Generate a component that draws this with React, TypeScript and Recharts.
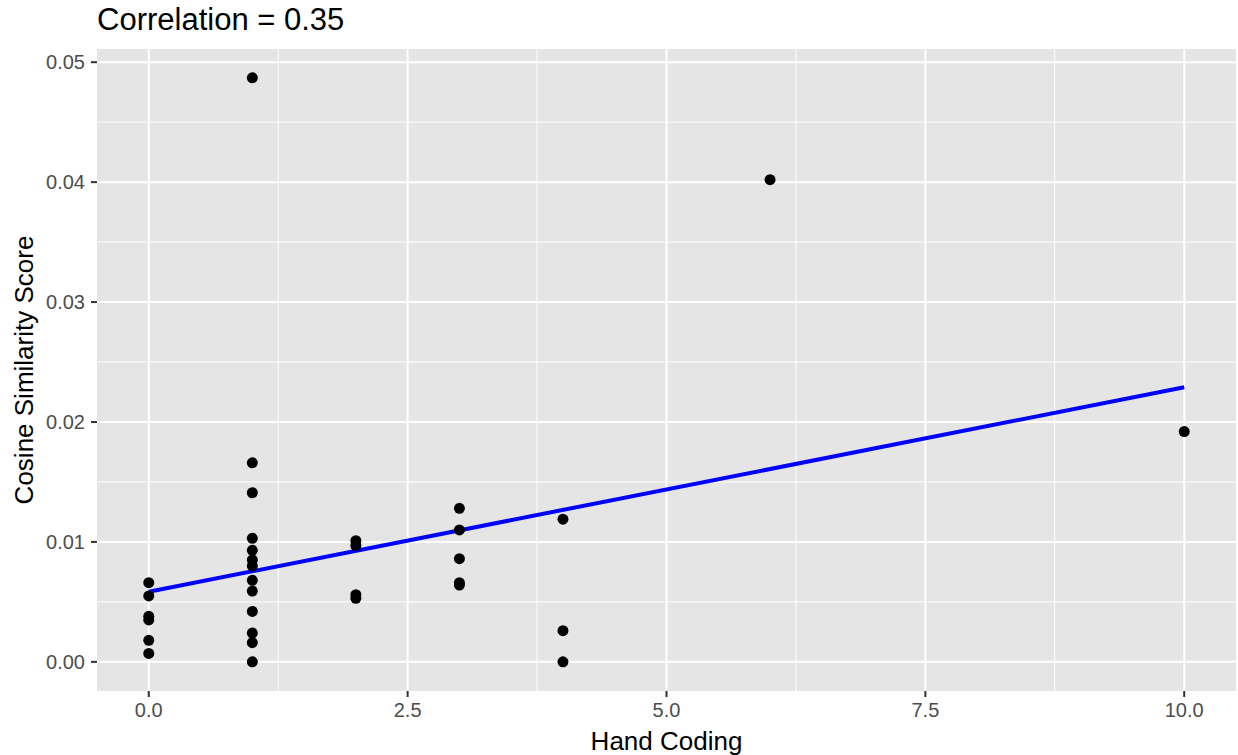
import React from "react";
import { ComposedChart, Scatter, Line, XAxis, YAxis, CartesianGrid, ReferenceLine, Label } from "recharts";

// hand coding score (x) and cosine similarity (y), one entry per document
const handCoding = [
  0, 0, 0, 0, 0, 0,
  1, 1, 1, 1, 1, 1, 1, 1, 1, 1, 1, 1, 1,
  2, 2, 2, 2,
  3, 3, 3, 3, 3,
  4, 4, 4,
  6,
  10,
];
const cosineScore = [
  0.0066, 0.0055, 0.0038, 0.0035, 0.0018, 0.0007,
  0.0487, 0.0166, 0.0141, 0.0103, 0.0093, 0.0085, 0.008, 0.0068, 0.0059, 0.0042, 0.0024, 0.0016, 0.0,
  0.0101, 0.0097, 0.0056, 0.0053,
  0.0128, 0.011, 0.0086, 0.0066, 0.0064,
  0.0119, 0.0026, 0.0,
  0.0402,
  0.0192,
];

// fitted line ends (lm)
const fitX = [0, 10];
const fitY = [0.00585, 0.0229];

const xTicks = [0, 2.5, 5, 7.5, 10];
const xMinor = [1.25, 3.75, 6.25, 8.75];
const yTicks = [0, 0.01, 0.02, 0.03, 0.04, 0.05];
const yMinor = [0.005, 0.015, 0.025, 0.035, 0.045];

const points = handCoding.map((x, i) => ({ x, y: cosineScore[i] }));
const fit = fitX.map((x, i) => ({ x, y: fitY[i] }));

const FONT = '"Liberation Sans", Arial, Helvetica, sans-serif';
const TICK = { fill: "#4D4D4D", fontSize: 20, fontFamily: FONT };

export default function App() {
  return (
    <div style={{ position: "absolute", left: 0, top: 0, width: 1238, height: 755, background: "#fff" }}>
      <ComposedChart width={1238} height={755} margin={{ top: 49, right: 2, bottom: 0, left: 0 }}>
        <CartesianGrid fill="#E5E5E5" stroke="none" horizontal={false} vertical={false} />
        {xMinor.map((v) => (
          <ReferenceLine key={"xm" + v} x={v} stroke="#fff" strokeWidth={1} zIndex={-90} />
        ))}
        {yMinor.map((v) => (
          <ReferenceLine key={"ym" + v} y={v} stroke="#fff" strokeWidth={1} zIndex={-90} />
        ))}
        {xTicks.map((v) => (
          <ReferenceLine key={"xM" + v} x={v} stroke="#fff" strokeWidth={2} zIndex={-80} />
        ))}
        {yTicks.map((v) => (
          <ReferenceLine key={"yM" + v} y={v} stroke="#fff" strokeWidth={2} zIndex={-80} />
        ))}
        <XAxis
          type="number"
          dataKey="x"
          domain={[-0.5, 10.5]}
          ticks={xTicks}
          tickFormatter={(v: number) => v.toFixed(1)}
          allowDataOverflow
          height={64}
          axisLine={false}
          tickLine={{ stroke: "#333333", strokeWidth: 2 }}
          tickSize={6}
          tickMargin={6}
          tick={TICK}
        >
          <Label value="Hand Coding" position="insideBottom" offset={5} fill="#000" fontSize={26} fontFamily={FONT} />
        </XAxis>
        <YAxis
          type="number"
          dataKey="y"
          domain={[-0.00243, 0.0511]}
          ticks={yTicks}
          tickFormatter={(v: number) => v.toFixed(2)}
          allowDataOverflow
          width={97}
          axisLine={false}
          tickLine={{ stroke: "#333333", strokeWidth: 2 }}
          tickSize={6}
          tickMargin={6}
          tick={TICK}
        >
          <Label
            content={() => (
              <g>
                <text x={33} y={370} transform="rotate(-90 33 370)" textAnchor="middle" fill="#000" fontSize={26} fontFamily={FONT}>
                  Cosine Similarity Score
                </text>
                <text x={97} y={30} fill="#000" fontSize={31} fontFamily={FONT}>
                  Correlation = 0.35
                </text>
              </g>
            )}
          />
        </YAxis>
        <Scatter
          data={points}
          dataKey="y"
          isAnimationActive={false}
          shape={(p: any) => <circle cx={p.cx} cy={p.cy} r={5.5} fill="#000" />}
        />
        <Line
          data={fit}
          dataKey="y"
          type="linear"
          stroke="#0000FF"
          strokeWidth={4}
          dot={false}
          activeDot={false}
          isAnimationActive={false}
        />
      </ComposedChart>
    </div>
  );
}
